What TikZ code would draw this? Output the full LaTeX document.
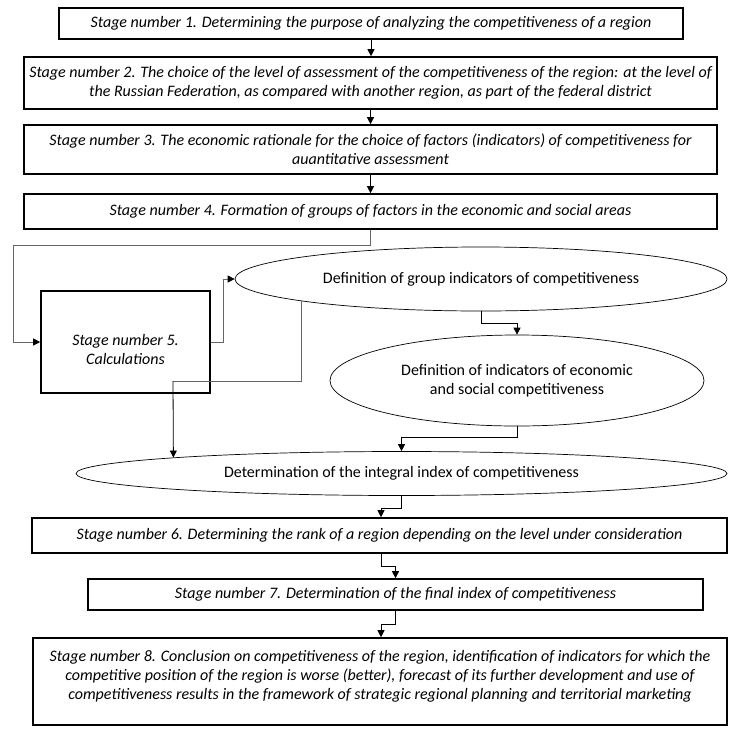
\documentclass[tikz,border=0pt]{standalone}
\usepackage{fontspec}
\setmainfont{Carlito}
\usetikzlibrary{shapes.geometric,arrows.meta}
\begin{document}
\begin{tikzpicture}[x=1pt,y=-1pt,
  stagebox/.style={draw,line width=1.6pt,rectangle,align=center,inner sep=1pt,font=\fontsize{16}{19}\selectfont\itshape},
  ovalnode/.style={draw,line width=0.7pt,ellipse,align=center,inner sep=1pt,font=\fontsize{16}{19}\selectfont},
  conn/.style={line width=0.8pt,-{Triangle[length=7pt,width=7pt,color=black]}},
  gconn/.style={conn,draw=black!60},
  gline/.style={line width=0.8pt,draw=black!60}]
\useasboundingbox (0,0) rectangle (751,731);
\node[stagebox,minimum width=624pt,minimum height=31pt] (s1) at (371,23.5)
  {Stage number 1. Determining the purpose of analyzing the competitiveness of a region};
\node[stagebox,minimum width=693pt,minimum height=52pt] (s2) at (370.5,83)
  {Stage number 2. The choice of the level of assessment of the competitiveness of the region: at the level of\\ the Russian Federation, as compared with another region, as part of the federal district};
\node[stagebox,minimum width=693pt,minimum height=49pt] (s3) at (370.5,149.5)
  {Stage number 3. The economic rationale for the choice of factors (indicators) of competitiveness for\\ auantitative assessment};
\node[stagebox,minimum width=693pt,minimum height=35pt] (s4) at (370.5,211.5)
  {Stage number 4. Formation of groups of factors in the economic and social areas};
\node[stagebox,minimum width=169pt,minimum height=102pt] (s5) at (125.5,342)
  {\mbox{}\\[8pt]Stage number 5.\\ Calculations};
\node[ovalnode,minimum width=492pt,minimum height=64pt] (e1) at (481,279)
  {Definition of group indicators of competitiveness};
\node[ovalnode,minimum width=374pt,minimum height=91pt] (e2) at (517,380.5)
  {Definition of indicators of economic\\ and social competitiveness};
\node[ovalnode,minimum width=651pt,minimum height=44pt] (e3) at (401.5,473.5)
  {Determination of the integral index of competitiveness};
\node[stagebox,minimum width=695pt,minimum height=35pt] (s6) at (379.5,535.5)
  {Stage number 6. Determining the rank of a region depending on the level under consideration};
\node[stagebox,minimum width=615pt,minimum height=31pt] (s7) at (395.5,594.5)
  {Stage number 7. Determination of the final index of competitiveness};
\node[stagebox,minimum width=694pt,minimum height=87pt] (s8) at (380,681.5)
  {Stage number 8. Conclusion on competitiveness of the region, identification of indicators for which the\\ competitive position of the region is worse (better), forecast of its further development and use of\\ competitiveness results in the framework of strategic regional planning and territorial marketing\\[-6pt]\mbox{}};
% connectors
\draw[conn] (s1.south) -- (s1.south |- s2.north);
\draw[conn] (s2.south) -- (s2.south |- s3.north);
\draw[conn] (s3.south) -- (s3.south |- s4.north);
\coordinate (w4) at (13,245);
\draw[gconn] (s4.south) |- (w4) |- (s5.west);
\draw[gconn] (s5.east) -- ++(13,0) |- (e1.west);
\draw[conn] (e1.south) -- ++(0,12) -| (e2.north);
\draw[conn] (e2.south) -- ++(0,11) -| (e3.north);
\coordinate (k) at (173,381);
\draw[gline] (e1.187.6) |- (k);
\draw[conn] (k) -- (e3.176.1);
\draw[conn] (e3.south) -- ++(0,12.5) -| ([xshift=1.5pt]s6.north);
\draw[conn] ([xshift=1.5pt]s6.south) -- ++(0,13) -| (s7.north);
\draw[conn] (s7.south) -- ++(0,14) -| ([xshift=1pt]s8.north);
\end{tikzpicture}
\end{document}
